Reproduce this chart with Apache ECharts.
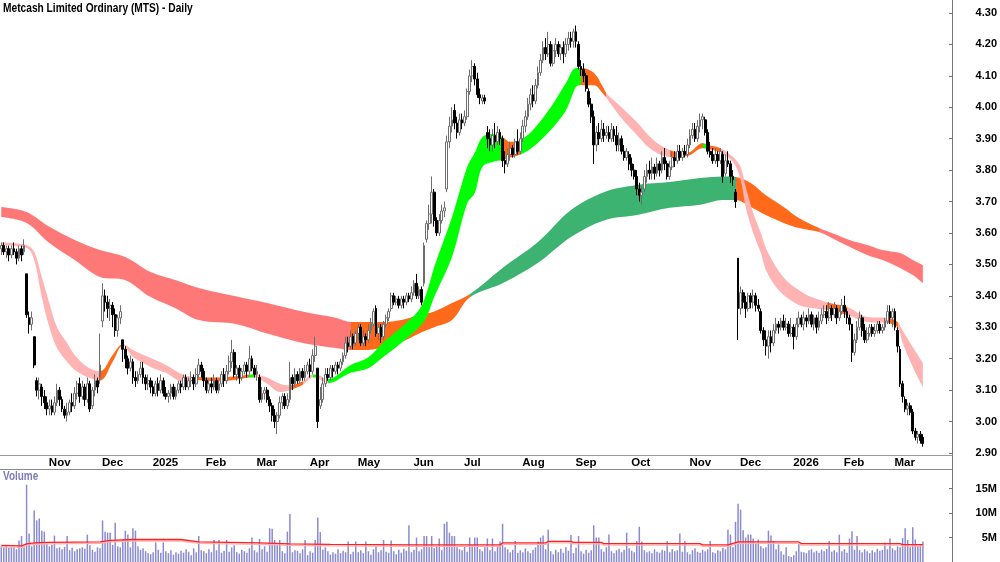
<!DOCTYPE html>
<html><head><meta charset="utf-8">
<script src="https://cdn.jsdelivr.net/npm/echarts@6/dist/echarts.min.js"></script>
<style>html,body{margin:0;padding:0;background:#fff}#c{width:1000px;height:562px}</style>
</head><body><div id="c"></div>
<script>
const FONT = '"Liberation Sans Narrow","Arial Narrow","Liberation Sans",Arial,sans-serif';
const chartTitle = 'Metcash Limited Ordinary (MTS) - Daily';
const volumeTitle = 'Volume';
const monthNames = ['Jan','Feb','Mar','Apr','May','Jun','Jul','Aug','Sep','Oct','Nov','Dec'];
const firstDay = [2024, 9, 8];
const barCount = 365;
const padSlots = 11;
const holidays = ['2024-12-25','2024-12-26','2025-01-01','2025-01-27','2025-04-18','2025-04-21','2025-04-25','2025-06-09','2025-12-25','2025-12-26','2026-01-01','2026-01-26'];

// [open, close, low, high]
const candles = [
// Oct 2024
[3.55,3.56,3.53,3.57],[3.56,3.54,3.53,3.57],[3.54,3.55,3.52,3.56],[3.55,3.53,3.51,3.56],[3.53,3.55,3.52,3.56],[3.55,3.54,3.53,3.57],[3.54,3.52,3.50,3.55],[3.52,3.55,3.51,3.56],[3.55,3.53,3.51,3.56],[3.54,3.56,3.53,3.58],
[3.47,3.34,3.33,3.47],[3.33,3.31,3.28,3.35],[3.31,3.33,3.29,3.35],[3.27,3.18,3.17,3.27],[3.13,3.10,3.08,3.14],[3.10,3.12,3.07,3.14],[3.11,3.08,3.05,3.12],[3.08,3.06,3.04,3.10],
// Nov 2024
[3.06,3.04,3.02,3.08],[3.04,3.05,3.02,3.07],[3.05,3.03,3.02,3.07],[3.03,3.06,3.02,3.08],[3.06,3.10,3.05,3.12],[3.10,3.07,3.05,3.11],[3.07,3.04,3.03,3.08],[3.04,3.02,3.01,3.05],[3.02,3.03,3.00,3.06],[3.03,3.06,3.02,3.07],
[3.06,3.05,3.03,3.09],[3.05,3.09,3.04,3.11],[3.09,3.12,3.07,3.13],[3.12,3.08,3.06,3.14],[3.08,3.11,3.07,3.13],[3.11,3.07,3.05,3.12],[3.07,3.12,3.06,3.14],[3.12,3.04,3.03,3.13],[3.05,3.10,3.04,3.11],[3.10,3.13,3.08,3.15],[3.13,3.11,3.09,3.14],
// Dec 2024
[3.14,3.18,3.12,3.28],[3.32,3.40,3.30,3.44],[3.40,3.38,3.35,3.42],[3.38,3.36,3.33,3.40],[3.36,3.37,3.32,3.39],[3.37,3.34,3.30,3.38],[3.34,3.29,3.27,3.36],[3.29,3.33,3.27,3.34],[3.33,3.35,3.31,3.37],[3.26,3.23,3.19,3.26],
[3.23,3.20,3.17,3.24],[3.20,3.17,3.15,3.21],[3.17,3.19,3.16,3.21],[3.19,3.14,3.12,3.20],[3.14,3.13,3.11,3.16],[3.13,3.15,3.12,3.16],[3.15,3.17,3.14,3.19],[3.17,3.14,3.12,3.19],[3.14,3.12,3.10,3.15],[3.12,3.13,3.10,3.15],
// Jan 2025
[3.13,3.11,3.09,3.14],[3.11,3.09,3.08,3.13],[3.09,3.12,3.08,3.13],[3.12,3.10,3.08,3.14],[3.10,3.13,3.09,3.15],[3.13,3.09,3.08,3.14],[3.09,3.08,3.07,3.11],[3.08,3.09,3.06,3.10],[3.09,3.11,3.07,3.12],[3.11,3.08,3.07,3.12],
[3.08,3.10,3.07,3.11],[3.10,3.12,3.09,3.13],[3.12,3.11,3.09,3.13],[3.11,3.14,3.10,3.15],[3.14,3.11,3.10,3.15],[3.11,3.13,3.10,3.14],[3.13,3.14,3.11,3.16],[3.14,3.12,3.10,3.15],[3.12,3.15,3.11,3.17],[3.15,3.18,3.14,3.20],[3.18,3.16,3.14,3.19],
// Feb 2025
[3.16,3.13,3.11,3.17],[3.13,3.10,3.09,3.14],[3.10,3.12,3.09,3.13],[3.12,3.11,3.09,3.14],[3.11,3.13,3.10,3.15],[3.13,3.10,3.09,3.14],[3.10,3.12,3.09,3.13],[3.12,3.15,3.11,3.16],[3.15,3.13,3.11,3.17],[3.13,3.16,3.12,3.18],
[3.16,3.19,3.15,3.21],[3.19,3.22,3.17,3.26],[3.22,3.15,3.14,3.23],[3.15,3.17,3.13,3.18],[3.17,3.14,3.12,3.18],[3.14,3.16,3.13,3.17],[3.16,3.18,3.15,3.19],[3.18,3.16,3.14,3.19],[3.16,3.20,3.15,3.24],[3.20,3.17,3.16,3.21],
// Mar 2025
[3.17,3.15,3.14,3.18],[3.15,3.16,3.13,3.18],[3.14,3.07,3.06,3.15],[3.07,3.09,3.06,3.11],[3.09,3.10,3.07,3.11],[3.10,3.07,3.06,3.11],[3.07,3.05,3.03,3.08],[3.05,3.02,3.00,3.06],[3.02,3.00,2.98,3.04],[3.00,3.02,2.96,3.03],
[3.02,3.06,3.01,3.08],[3.06,3.08,3.04,3.09],[3.08,3.05,3.04,3.09],[3.05,3.07,3.04,3.09],[3.07,3.14,3.06,3.19],[3.14,3.12,3.10,3.15],[3.12,3.15,3.11,3.17],[3.15,3.13,3.12,3.16],[3.13,3.16,3.12,3.17],[3.16,3.14,3.13,3.17],[3.14,3.16,3.13,3.18],
// Apr 2025
[3.16,3.18,3.15,3.19],[3.18,3.16,3.14,3.20],[3.16,3.21,3.15,3.23],[3.21,3.24,3.19,3.27],[3.17,3.00,2.98,3.17],[3.05,3.07,3.04,3.11],[3.07,3.12,3.06,3.14],[3.12,3.15,3.11,3.17],[3.15,3.14,3.13,3.17],[3.14,3.17,3.13,3.18],
[3.17,3.16,3.14,3.18],[3.16,3.18,3.15,3.19],[3.18,3.17,3.15,3.19],[3.17,3.19,3.16,3.20],[3.19,3.21,3.18,3.22],[3.21,3.25,3.20,3.27],[3.25,3.24,3.22,3.27],[3.24,3.27,3.23,3.29],[3.27,3.25,3.23,3.28],
// May 2025
[3.25,3.28,3.24,3.29],[3.28,3.30,3.26,3.31],[3.30,3.25,3.24,3.31],[3.25,3.27,3.24,3.29],[3.27,3.26,3.24,3.28],[3.26,3.29,3.25,3.31],[3.29,3.31,3.28,3.33],[3.31,3.35,3.30,3.36],[3.36,3.28,3.27,3.37],[3.28,3.30,3.26,3.31],
[3.30,3.27,3.25,3.31],[3.27,3.31,3.26,3.32],[3.31,3.33,3.30,3.34],[3.33,3.35,3.32,3.36],[3.36,3.40,3.35,3.41],[3.40,3.38,3.37,3.41],[3.38,3.39,3.37,3.40],[3.39,3.37,3.36,3.40],[3.37,3.39,3.36,3.40],[3.39,3.38,3.36,3.40],[3.38,3.40,3.37,3.41],[3.40,3.39,3.38,3.41],
// Jun 2025
[3.39,3.41,3.38,3.43],[3.41,3.44,3.40,3.45],[3.44,3.40,3.39,3.47],[3.40,3.42,3.39,3.43],[3.42,3.38,3.37,3.43],[3.44,3.56,3.43,3.57],[3.58,3.63,3.57,3.64],[3.63,3.66,3.61,3.69],[3.66,3.73,3.63,3.78],[3.73,3.64,3.62,3.74],
[3.64,3.60,3.59,3.65],[3.60,3.64,3.59,3.66],[3.64,3.67,3.63,3.69],[3.67,3.68,3.65,3.70],[3.74,3.89,3.73,3.91],[3.89,3.94,3.87,3.97],[3.94,3.96,3.92,4.00],[3.99,3.95,3.93,4.01],[3.95,3.92,3.90,3.97],[3.92,3.96,3.91,3.98],
// Jul 2025
[3.96,3.95,3.93,3.98],[3.95,3.97,3.94,3.99],[3.97,4.05,3.96,4.06],[4.05,4.10,4.04,4.12],[4.10,4.13,4.08,4.15],[4.13,4.09,4.07,4.14],[4.09,4.04,4.03,4.11],[4.04,4.03,4.01,4.06],[4.02,4.03,4.01,4.04],[4.03,4.02,4.01,4.04],
[3.92,3.90,3.87,3.94],[3.90,3.88,3.86,3.93],[3.88,3.91,3.86,3.93],[3.91,3.89,3.87,3.95],[3.89,3.92,3.88,3.94],[3.92,3.90,3.88,3.93],[3.90,3.83,3.81,3.91],[3.83,3.82,3.79,3.86],[3.82,3.85,3.81,3.87],[3.85,3.87,3.83,3.89],
[3.87,3.85,3.84,3.88],[3.85,3.89,3.84,3.90],[3.89,3.86,3.85,3.93],
// Aug 2025
[3.86,3.90,3.85,3.92],[3.90,3.94,3.89,3.96],[3.94,3.97,3.92,3.99],[3.97,4.01,3.96,4.03],[4.01,4.04,3.99,4.06],[4.04,4.02,4.00,4.07],[4.02,4.07,4.01,4.09],[4.07,4.11,4.06,4.13],[4.11,4.15,4.10,4.17],[4.15,4.19,4.14,4.21],
[4.19,4.17,4.15,4.22],[4.17,4.20,4.16,4.24],[4.20,4.14,4.13,4.21],[4.14,4.18,4.13,4.20],[4.18,4.20,4.16,4.22],[4.20,4.17,4.16,4.21],[4.17,4.19,4.15,4.20],[4.19,4.17,4.14,4.21],[4.17,4.20,4.16,4.22],[4.20,4.22,4.18,4.24],[4.22,4.21,4.19,4.24],
// Sep 2025
[4.21,4.24,4.19,4.25],[4.24,4.21,4.19,4.26],[4.20,4.13,4.12,4.21],[4.13,4.12,4.10,4.15],[4.12,4.10,4.08,4.14],[4.10,4.06,4.05,4.11],[4.05,4.01,4.00,4.06],[4.01,3.97,3.95,4.03],[3.97,3.88,3.82,3.99],[3.88,3.92,3.86,3.94],
[3.92,3.90,3.88,3.95],[3.90,3.93,3.89,3.96],[3.93,3.91,3.89,3.95],[3.91,3.92,3.90,3.94],[3.92,3.90,3.89,3.94],[3.90,3.93,3.89,3.95],[3.93,3.91,3.89,3.94],[3.91,3.88,3.86,3.94],[3.88,3.90,3.86,3.92],[3.90,3.86,3.85,3.91],
[3.86,3.84,3.83,3.88],[3.84,3.86,3.83,3.87],
// Oct 2025
[3.85,3.82,3.80,3.86],[3.82,3.80,3.78,3.84],[3.80,3.78,3.77,3.82],[3.78,3.74,3.72,3.80],[3.74,3.72,3.70,3.76],[3.72,3.73,3.69,3.75],[3.74,3.78,3.73,3.80],[3.78,3.80,3.76,3.82],[3.80,3.79,3.77,3.83],[3.79,3.81,3.77,3.84],
[3.81,3.79,3.77,3.82],[3.79,3.82,3.78,3.84],[3.82,3.80,3.78,3.83],[3.80,3.84,3.79,3.86],[3.84,3.82,3.80,3.87],[3.82,3.78,3.77,3.83],[3.78,3.81,3.77,3.83],[3.81,3.84,3.80,3.86],[3.84,3.83,3.81,3.86],[3.83,3.86,3.82,3.88],
[3.86,3.84,3.83,3.88],[3.84,3.86,3.83,3.87],[3.86,3.85,3.84,3.88],
// Nov 2025
[3.85,3.88,3.84,3.90],[3.88,3.91,3.87,3.93],[3.91,3.93,3.90,3.95],[3.93,3.90,3.89,3.95],[3.90,3.94,3.89,3.96],[3.94,3.96,3.92,3.98],[3.96,3.97,3.93,3.98],[3.96,3.92,3.91,3.97],[3.92,3.86,3.85,3.93],[3.86,3.85,3.84,3.89],
[3.85,3.83,3.82,3.87],[3.83,3.85,3.82,3.87],[3.85,3.83,3.81,3.86],[3.83,3.86,3.82,3.87],[3.85,3.78,3.76,3.86],[3.79,3.83,3.78,3.85],[3.83,3.82,3.81,3.86],[3.82,3.78,3.76,3.83],[3.78,3.77,3.75,3.80],[3.73,3.70,3.68,3.74],
// Dec 2025
[3.52,3.36,3.26,3.52],[3.36,3.41,3.34,3.43],[3.41,3.38,3.36,3.42],[3.38,3.36,3.33,3.40],[3.36,3.40,3.35,3.41],[3.40,3.38,3.36,3.41],[3.38,3.40,3.36,3.42],[3.40,3.37,3.35,3.41],[3.37,3.36,3.35,3.39],[3.35,3.29,3.28,3.36],
[3.29,3.26,3.24,3.30],[3.26,3.24,3.21,3.29],[3.24,3.27,3.20,3.29],[3.27,3.25,3.22,3.29],[3.25,3.29,3.24,3.31],[3.29,3.31,3.28,3.33],[3.31,3.30,3.28,3.32],[3.30,3.32,3.29,3.33],[3.32,3.30,3.29,3.34],[3.30,3.31,3.29,3.33],[3.31,3.28,3.27,3.32],
// Jan 2026
[3.28,3.30,3.27,3.33],[3.30,3.27,3.23,3.31],[3.27,3.31,3.26,3.33],[3.31,3.33,3.30,3.35],[3.33,3.31,3.30,3.34],[3.31,3.33,3.29,3.35],[3.33,3.32,3.30,3.34],[3.32,3.34,3.31,3.36],[3.34,3.31,3.30,3.35],[3.31,3.33,3.29,3.34],
[3.33,3.30,3.28,3.34],[3.30,3.32,3.29,3.35],[3.32,3.34,3.31,3.36],[3.34,3.35,3.33,3.37],[3.35,3.33,3.31,3.37],[3.33,3.36,3.32,3.38],[3.36,3.34,3.32,3.37],[3.34,3.36,3.33,3.38],[3.36,3.33,3.31,3.37],[3.33,3.35,3.32,3.36],
// Feb 2026
[3.35,3.37,3.34,3.39],[3.37,3.35,3.33,3.40],[3.35,3.33,3.31,3.36],[3.33,3.31,3.29,3.34],[3.31,3.22,3.19,3.31],[3.22,3.26,3.21,3.28],[3.26,3.30,3.25,3.32],[3.30,3.33,3.29,3.35],[3.33,3.29,3.27,3.34],[3.29,3.26,3.25,3.31],
[3.26,3.28,3.25,3.30],[3.28,3.30,3.27,3.31],[3.30,3.28,3.27,3.31],[3.28,3.29,3.27,3.31],[3.29,3.31,3.28,3.32],[3.31,3.29,3.28,3.32],[3.29,3.30,3.28,3.31],[3.30,3.32,3.29,3.33],[3.32,3.35,3.31,3.37],[3.35,3.33,3.31,3.37],
// Mar 2026
[3.33,3.35,3.30,3.36],[3.35,3.30,3.29,3.36],[3.29,3.24,3.22,3.30],[3.23,3.12,3.11,3.24],[3.12,3.08,3.06,3.13],[3.07,3.04,3.03,3.08],[3.04,3.05,3.02,3.06],[3.05,3.03,3.02,3.06],[3.03,2.97,2.96,3.04],[2.97,2.95,2.94,2.98],
[2.95,2.96,2.93,2.97],[2.96,2.94,2.93,2.97],[2.95,2.93,2.92,2.96]
];

// volume in millions
const volumes = [
3.2,3.0,3.3,2.9,3.1,3.0,2.6,4.4,5.3,3.0, 15.8,5.8,3.2,10.5,8.5,8.9,6.4,6.2,
3.8,3.2,3.5,5.4,2.8,3.0,2.6,3.1,5.3,2.4,2.9,2.2,2.6,2.8,3.0,2.7,5.6,3.4,2.5,2.1,3.0,
2.8,8.5,6.2,6.0,6.0,3.5,8.0,3.2,3.0,4.5,6.4,5.6,3.0,6.9,6.4,3.2,2.5,2.8,2.2,1.8,
1.6,2.0,4.0,2.5,1.9,4.0,2.2,1.8,2.4,1.5,2.0,1.7,2.3,1.9,2.6,2.1,1.4,2.8,2.0,5.3,2.4,
2.2,1.8,2.6,2.0,4.5,2.4,4.5,1.9,2.3,4.5,2.1,3.0,3.4,2.0,1.7,2.5,2.2,1.9,2.8,5.0,
2.4,2.0,4.7,2.6,3.2,2.1,6.9,6.8,4.5,3.5,4.5,2.2,1.8,6.2,9.8,2.0,2.4,2.3,1.8,2.6,4.5,
1.4,2.2,1.9,4.5,9.1,6.1,2.5,3.0,2.2,1.5,2.0,1.7,2.6,1.8,2.3,2.0,4.2,1.6,2.1,
4.2,2.0,2.4,1.8,4.2,2.2,1.5,2.6,3.2,2.0,2.4,4.5,2.1,1.9,4.4,2.2,1.6,2.5,1.9,2.7,2.3,7.5,
2.0,2.5,5.0,2.2,2.6,5.3,5.3,3.0,5.3,2.8,3.2,4.8,2.4,7.8,8.2,6.0,5.3,5.3,3.0,2.6,
2.4,3.2,2.1,5.0,3.4,5.0,5.0,2.6,2.2,3.0,4.8,2.4,4.8,2.2,3.3,4.2,7.8,3.0,2.6,2.0,2.5,4.3,1.9,
2.4,2.0,2.8,2.2,1.8,2.5,3.0,4.2,5.0,5.4,2.6,6.6,2.2,1.6,2.5,2.0,2.7,1.9,3.0,2.3,5.5,
1.8,2.9,5.3,2.2,1.7,2.5,1.9,2.4,7.5,5.0,5.0,2.6,2.1,3.0,5.6,2.2,1.8,2.4,2.7,2.0,2.5,6.0,
2.8,2.3,2.0,4.3,7.2,4.2,2.4,2.0,2.2,1.8,2.6,2.1,1.9,2.5,2.3,4.3,2.0,2.6,2.2,2.4,5.8,2.1,4.3,
2.0,1.6,2.4,2.8,2.1,1.9,2.5,2.2,2.6,4.3,2.0,1.8,2.4,2.2,2.9,2.6,6.6,5.6,3.0,8.2,
11.9,10.7,6.5,5.0,5.6,5.6,4.8,3.8,4.6,3.2,2.8,3.0,6.4,5.4,4.3,2.6,3.6,2.2,1.5,3.0,1.2,
1.0,1.4,2.2,3.8,2.1,2.0,1.8,2.4,2.6,2.0,2.3,1.9,2.5,2.2,2.7,4.3,2.1,2.4,2.0,5.6,
2.2,2.6,1.9,4.8,6.3,2.5,5.3,2.4,2.0,2.6,2.2,1.8,2.4,2.0,2.7,2.3,2.5,4.0,2.6,4.8,
2.8,2.4,3.2,3.0,4.9,6.9,4.5,3.0,7.1,4.6,3.2,3.6,4.2
];

// volume moving average, read at points [barIndex, millions]
const volumeAverage = [[0,3.4],[8,3.3],[10,3.7],[13,3.9],[18,4.0],[39,4.1],[43,4.4],[52,4.6],[71,4.6],[78,4.1],[102,3.9],[114,3.7],[130,3.6],[165,3.5],[197,3.5],[198,3.9],[215,3.9],[216,4.2],[225,4.2],[226,4.0],[237,4.0],[238,3.75],[276,3.75],[277,3.5],[287,3.5],[291,4.1],[315,4.1],[316,3.75],[355,3.75],[356,3.55],[364,3.55]];

// short-term ribbon: [barIndex, upper, lower, state of following segment]
const shortRibbon = [
[0,3.570,3.560,'P'],[10,3.562,3.552,'P'],[13,3.540,3.514,'P'],[16,3.460,3.396,'P'],[19,3.377,3.300,'P'],[22,3.300,3.234,'P'],[26,3.250,3.190,'P'],[29,3.212,3.164,'P'],[34,3.174,3.142,'P'],
[39,3.160,3.130,'O'],[44,3.212,3.190,'O'],[48,3.246,3.242,'P'],[52,3.228,3.206,'P'],[59,3.202,3.174,'P'],[65,3.180,3.155,'P'],[72,3.148,3.126,'P'],
[77,3.142,3.132,'O'],[85,3.140,3.128,'O'],[94,3.145,3.135,'O'],[98,3.150,3.140,'G'],[100,3.150,3.140,'P'],[105,3.140,3.120,'P'],[110,3.120,3.094,'P'],[114,3.115,3.100,'O'],[119,3.128,3.116,'P'],[123,3.150,3.140,'G'],[125,3.148,3.138,'P'],
[129,3.135,3.122,'G'],[138,3.180,3.155,'G'],[145,3.205,3.170,'G'],[151,3.253,3.206,'G'],[158,3.300,3.250,'G'],[165,3.355,3.300,'G'],[168,3.410,3.333,'G'],[171,3.492,3.396,'G'],[178,3.650,3.524,'G'],[184,3.810,3.694,'G'],[187,3.855,3.727,'G'],[190,3.905,3.810,'G'],[194,3.915,3.826,'G'],
[198,3.905,3.832,'O'],[201,3.890,3.840,'O'],[205,3.896,3.850,'G'],[210,3.928,3.874,'G'],[217,4.000,3.928,'G'],[223,4.077,3.990,'G'],[227,4.125,4.065,'G'],
[229,4.125,4.070,'O'],[234,4.110,4.070,'O'],[238,4.060,4.040,'O'],[239,4.045,4.030,'P'],[244,4.007,3.975,'P'],[251,3.953,3.912,'P'],[257,3.900,3.864,'P'],
[264,3.864,3.842,'O'],[271,3.855,3.845,'O'],[277,3.886,3.870,'G'],[279,3.880,3.868,'O'],[284,3.870,3.855,'P'],[289,3.842,3.826,'P'],[292,3.810,3.770,'P'],[294,3.746,3.683,'P'],[297,3.664,3.600,'P'],[300,3.600,3.536,'P'],[302,3.552,3.482,'P'],[306,3.492,3.428,'P'],[310,3.450,3.396,'P'],[315,3.419,3.371,'P'],[320,3.396,3.361,'P'],
[326,3.380,3.355,'O'],[334,3.365,3.339,'P'],[342,3.333,3.317,'P'],[350,3.330,3.314,'O'],[354,3.317,3.300,'P'],[356,3.290,3.250,'P'],[360,3.237,3.174,'P'],[364,3.186,3.110,'P']
];

// long-term ribbon: [barIndex, upper, lower, state of following segment]
const longRibbon = [
[0,3.683,3.651,'R'],[10,3.667,3.632,'R'],[19,3.620,3.568,'R'],[29,3.578,3.514,'R'],[39,3.546,3.460,'R'],[49,3.524,3.450,'R'],[59,3.476,3.396,'R'],[69,3.450,3.360,'R'],[78,3.425,3.323,'R'],[93,3.398,3.310,'R'],[105,3.377,3.280,'R'],[119,3.350,3.250,'R'],[132,3.330,3.234,'R'],
[138,3.317,3.228,'O'],[145,3.317,3.228,'O'],[151,3.317,3.237,'O'],[158,3.323,3.253,'O'],[165,3.339,3.280,'O'],[171,3.350,3.300,'O'],[178,3.377,3.323,'O'],
[185,3.405,3.395,'D'],[198,3.489,3.440,'D'],[212,3.571,3.505,'D'],[225,3.673,3.587,'D'],[238,3.730,3.640,'D'],[251,3.753,3.657,'D'],[264,3.762,3.680,'D'],[276,3.775,3.690,'D'],[285,3.780,3.705,'D'],
[290,3.778,3.705,'O'],[296,3.759,3.683,'O'],[302,3.720,3.657,'O'],[309,3.683,3.632,'O'],[315,3.648,3.616,'O'],
[323,3.616,3.603,'R'],[328,3.600,3.584,'R'],[335,3.578,3.556,'R'],[342,3.562,3.530,'R'],[348,3.546,3.514,'R'],[355,3.536,3.489,'R'],[360,3.514,3.466,'R'],[364,3.498,3.440,'R']
];

const shortColors = { P: '#ffb3b3', G: '#00ff00', O: '#ff6a1a' };
const longColors = { R: '#ff7878', D: '#3cb371', O: '#ff6a1a' };

// trading calendar
const dates = [];
(function () {
  const d = new Date(Date.UTC(firstDay[0], firstDay[1], firstDay[2]));
  while (dates.length < barCount) {
    const wd = d.getUTCDay();
    const s = d.toISOString().slice(0, 10);
    if (wd > 0 && wd < 6 && holidays.indexOf(s) < 0) dates.push(s);
    d.setUTCDate(d.getUTCDate() + 1);
  }
})();
const categories = dates.concat(Array.from({ length: padSlots }, (_, k) => 'pad' + k));
function isMonthStart(i) {
  return i > 0 && i < dates.length && dates[i].slice(0, 7) !== dates[i - 1].slice(0, 7);
}
function monthLabel(v) {
  const m = +v.slice(5, 7);
  return m === 1 ? v.slice(0, 4) : monthNames[m - 1];
}

// ribbon = invisible lower line + stacked band (width) with colour pieces along x
function ribbonSeries(points, stackName, z) {
  return [
    {
      type: 'line', xAxisIndex: 0, yAxisIndex: 0, stack: stackName, smooth: 0.35, symbol: 'none', silent: true, z: z,
      data: points.map(p => [p[0], p[2]]),
      lineStyle: { opacity: 0, width: 0 }
    },
    {
      type: 'line', xAxisIndex: 0, yAxisIndex: 0, stack: stackName, smooth: 0.35, symbol: 'none', silent: true, z: z,
      data: points.map(p => [p[0], +(p[1] - p[2]).toFixed(4)]),
      lineStyle: { opacity: 0, width: 0 },
      areaStyle: { opacity: 1 }
    }
  ];
}
function ribbonPieces(points, palette) {
  return points.slice(0, -1).map((p, k) => {
    const piece = { gte: p[0], color: palette[p[3]] };
    if (k === points.length - 2) piece.lte = points[k + 1][0]; else piece.lt = points[k + 1][0];
    return piece;
  });
}

const labelStyle = { fontFamily: FONT, fontWeight: 'bold', fontSize: 11, color: '#000' };

const chart = echarts.init(document.getElementById('c'), null, { renderer: 'canvas' });
const warn = (candles.length !== barCount || volumes.length !== barCount) ? ('LEN ' + candles.length + '/' + volumes.length) : '';
chart.setOption({
  animation: false,
  backgroundColor: '#fff',
  grid: [
    { left: 0, right: 48, top: 13, height: 440 },
    { left: 0, right: 48, top: 470, bottom: 0 }
  ],
  xAxis: [
    {
      type: 'category', gridIndex: 0, data: categories, boundaryGap: true, offset: 2,
      axisLine: { lineStyle: { color: '#999', width: 1 } },
      axisTick: { inside: true, length: 3, alignWithLabel: true, interval: (i) => isMonthStart(i), lineStyle: { color: '#999' } },
      axisLabel: Object.assign({}, labelStyle, { fontSize: 11.5, interval: (i) => isMonthStart(i), formatter: (v) => monthLabel(v), align: 'left', margin: 2, padding: [0, 0, 0, 2] }),
      splitLine: { show: false }
    },
    {
      type: 'category', gridIndex: 1, data: categories, boundaryGap: true,
      axisLine: { show: false }, axisTick: { show: false }, axisLabel: { show: false }, splitLine: { show: false }
    }
  ],
  yAxis: [
    {
      type: 'value', gridIndex: 0, position: 'right', min: 2.9, max: 4.3, interval: 0.1,
      axisLine: { show: true, lineStyle: { color: '#777' } },
      axisTick: { show: true, inside: true, length: 3, lineStyle: { color: '#777' } },
      axisLabel: Object.assign({}, labelStyle, { align: 'right', margin: 45, formatter: (v) => v.toFixed(2) }),
      splitLine: { show: false }
    },
    {
      type: 'value', gridIndex: 1, position: 'right', min: 0, max: 18.8, interval: 5,
      axisLine: { show: true, lineStyle: { color: '#777' } },
      axisTick: { show: true, inside: true, length: 3, lineStyle: { color: '#777' } },
      axisLabel: Object.assign({}, labelStyle, { align: 'right', margin: 45, showMinLabel: false, showMaxLabel: false, formatter: (v) => (v > 0 && v % 5 === 0) ? v + 'M' : '' }),
      splitLine: { show: false }
    }
  ],
  visualMap: [
    { type: 'piecewise', show: false, seriesIndex: 1, dimension: 0, pieces: ribbonPieces(longRibbon, longColors) },
    { type: 'piecewise', show: false, seriesIndex: 3, dimension: 0, pieces: ribbonPieces(shortRibbon, shortColors) }
  ],
  graphic: [
    { type: 'text', x: 3, y: 2, scaleX: 0.815, style: { text: chartTitle, font: 'bold 12.5px ' + FONT, fill: '#000' } },
    { type: 'text', x: 3, y: 471, scaleX: 0.83, style: { text: volumeTitle, font: 'bold 12px ' + FONT, fill: '#7b7bbd' } },
    { type: 'line', shape: { x1: 952.5, y1: 0, x2: 952.5, y2: 562 }, style: { stroke: '#777', lineWidth: 1 } },
    { type: 'line', shape: { x1: 0, y1: 469.5, x2: 952, y2: 469.5 }, style: { stroke: '#888', lineWidth: 1 } },
    { type: 'text', x: 400, y: 200, style: { text: warn, font: 'bold 20px sans-serif', fill: 'red' } }
  ],
  series: [
    ...ribbonSeries(longRibbon, 'long', 1),
    ...ribbonSeries(shortRibbon, 'short', 2),
    {
      type: 'candlestick', xAxisIndex: 0, yAxisIndex: 0, z: 5, data: candles, barWidth: 2.3,
      itemStyle: { color: '#ffffff', color0: '#000000', borderColor: '#6e6e6e', borderColor0: '#000000', borderWidth: 1 }
    },
    {
      type: 'bar', xAxisIndex: 1, yAxisIndex: 1, data: volumes, barWidth: 1.5,
      itemStyle: { color: '#8a8ad0' }, z: 2
    },
    {
      type: 'line', xAxisIndex: 1, yAxisIndex: 1, data: volumeAverage, symbol: 'none', z: 3,
      lineStyle: { color: '#ff2020', width: 1.3, shadowColor: '#ffb0b0', shadowOffsetY: 1.5, shadowBlur: 0 }
    }
  ]
});
</script>
</body></html>
